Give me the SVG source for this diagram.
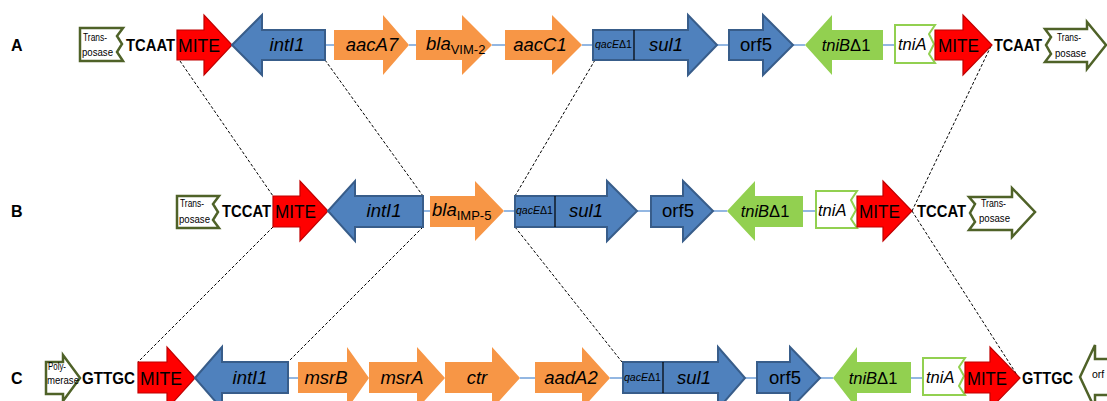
<svg xmlns="http://www.w3.org/2000/svg" width="1107" height="401" viewBox="0 0 1107 401">
<style>
.blue{fill:#4f81bd;stroke:#385d8a;stroke-width:2}
.red{fill:#ff0000;stroke:#c00000;stroke-width:1.2}
.orange{fill:#f79646}
.green{fill:#92d050}
.tnia{fill:#fff;stroke:#92d050;stroke-width:2}
.olive{fill:#fff;stroke:#4f6228;stroke-width:2.5}
.link{stroke:#6f9fd8;stroke-width:1.5}
.dash{stroke:#000;stroke-width:1;stroke-dasharray:3 2;fill:none}
.div{stroke:#000;stroke-width:1.2}
text{font-family:"Liberation Sans",Arial,sans-serif;fill:#000}
.g{font-size:18.5px;font-style:italic;text-anchor:middle}
.gn{font-size:18.5px;text-anchor:middle}
.m{font-size:19px}
.seq{font-size:17px;font-weight:bold}
.tp{font-size:10.5px}
.q{font-size:11.5px}
.t16{font-size:16.5px;font-style:italic}
.lab{font-size:16px;font-weight:bold}
</style>
<g id="connectors">
<line class="link" x1="325" y1="45" x2="334" y2="45"/>
<line class="link" x1="409" y1="45" x2="416" y2="45"/>
<line class="link" x1="492" y1="45" x2="505" y2="45"/>
<line class="link" x1="582" y1="45" x2="593" y2="45"/>
<line class="link" x1="717" y1="45" x2="729" y2="45"/>
<line class="link" x1="793" y1="45" x2="805" y2="45"/>
<line class="link" x1="883" y1="45" x2="895" y2="45"/>
<line class="link" x1="423" y1="211" x2="430" y2="211"/>
<line class="link" x1="504" y1="211" x2="515" y2="211"/>
<line class="link" x1="637" y1="211" x2="651" y2="211"/>
<line class="link" x1="713" y1="211" x2="727" y2="211"/>
<line class="link" x1="803" y1="211" x2="816" y2="211"/>
<line class="link" x1="288" y1="378" x2="298" y2="378"/>
<line class="link" x1="520" y1="378" x2="535" y2="378"/>
<line class="link" x1="610" y1="378" x2="623" y2="378"/>
<line class="link" x1="745" y1="378" x2="757" y2="378"/>
<line class="link" x1="820" y1="378" x2="833" y2="378"/>
<line class="link" x1="911" y1="378" x2="923" y2="378"/>
<path class="dash" d="M180,61 L273,196"/>
<path class="dash" d="M325,60 L423,196"/>
<path class="dash" d="M595,60 L515,196"/>
<path class="dash" d="M991,46 L912,211"/>
<path class="dash" d="M273,227 L138,362"/>
<path class="dash" d="M423,227 L288,362"/>
<path class="dash" d="M515,227 L622,362"/>
<path class="dash" d="M912,211 L1019,378"/>
</g>
<g id="labels">
<text class="lab" x="11" y="51">A</text>
<text class="lab" x="11" y="217">B</text>
<text class="lab" x="11" y="384">C</text>
</g>
<!-- Row A -->
<g id="A_transposase_left">
<path class="olive" d="M80,28 H123 L117,36 L122,44 L117,52 L123,61 H80 Z"/>
<text class="tp" x="83" y="41" textLength="24" lengthAdjust="spacingAndGlyphs">Trans-</text>
<text class="tp" x="82" y="56" textLength="31" lengthAdjust="spacingAndGlyphs">posase</text>
</g>
<g id="A_tcaat_left"><text class="seq" x="126" y="51" textLength="49" lengthAdjust="spacingAndGlyphs">TCAAT</text></g>
<g id="A_mite_left">
<path class="red" d="M177,30 H204 V15 L232,45 L204,75 V60 H177 Z"/>
<text class="m" x="178" y="52" textLength="42" lengthAdjust="spacingAndGlyphs">MITE</text>
</g>
<g id="A_intI1">
<path class="blue" d="M232,45 L262,15 V30 H325 V60 H262 V75 Z"/>
<text class="g" x="287" y="51">intI1</text>
</g>
<g id="A_aacA7">
<path class="orange" d="M334,30 H383 V15 L409,45 L383,75 V60 H334 Z"/>
<text class="g" x="372" y="51">aacA7</text>
</g>
<g id="A_blaVIM2">
<path class="orange" d="M416,30 H462 V15 L492,45 L462,75 V60 H416 Z"/>
<text x="426" y="50"><tspan font-size="18.5" font-style="italic">bla</tspan><tspan font-size="13" dy="4">VIM-2</tspan></text>
</g>
<g id="A_aacC1">
<path class="orange" d="M505,30 H552 V15 L582,45 L552,75 V60 H505 Z"/>
<text class="g" x="540" y="51">aacC1</text>
</g>
<g id="A_qacE_sul1">
<path class="blue" d="M593,30 H688 V15 L717,45 L688,75 V60 H593 Z"/>
<line class="div" x1="634" y1="30" x2="634" y2="60"/>
<text class="q" x="595" y="48" textLength="37" lengthAdjust="spacingAndGlyphs"><tspan font-style="italic">qacE</tspan>Δ1</text>
<text class="g" x="666" y="51">sul1</text>
</g>
<g id="A_orf5">
<path class="blue" d="M729,30 H763 V15 L793,45 L763,75 V60 H729 Z"/>
<text class="gn" x="756" y="51">orf5</text>
</g>
<g id="A_tniB">
<path class="green" d="M805,45 L832,15 V30 H883 V60 H832 V75 Z"/>
<text x="846" y="51" font-size="16.5" text-anchor="middle"><tspan font-style="italic">tniB</tspan>Δ1</text>
</g>
<g id="A_tniA">
<path class="tnia" d="M895,25 H935 L929,34 L934,44 L929,54 L935,63 H895 Z"/>
<text class="t16" x="898" y="50">tniA</text>
</g>
<g id="A_mite_right">
<path class="red" d="M935,30 H963 V15 L992,45 L963,75 V60 H935 Z"/>
<text class="m" x="938" y="52" textLength="41" lengthAdjust="spacingAndGlyphs">MITE</text>
</g>
<g id="A_tcaat_right"><text class="seq" x="994" y="51" textLength="48" lengthAdjust="spacingAndGlyphs">TCAAT</text></g>
<g id="A_transposase_right">
<path class="olive" d="M1045,29 H1087 V22 L1106,45 L1087,69 V62 H1045 L1051,54 L1046,45 L1051,37 Z"/>
<text class="tp" x="1057" y="41" textLength="24" lengthAdjust="spacingAndGlyphs">Trans-</text>
<text class="tp" x="1055" y="57" textLength="31" lengthAdjust="spacingAndGlyphs">posase</text>
</g>
<!-- Row B -->
<g id="B_transposase_left">
<path class="olive" d="M177,196 H219 L213,204 L218,212 L213,220 L219,228 H177 Z"/>
<text class="tp" x="180" y="207" textLength="24" lengthAdjust="spacingAndGlyphs">Trans-</text>
<text class="tp" x="179" y="223" textLength="31" lengthAdjust="spacingAndGlyphs">posase</text>
</g>
<g id="B_tccat_left"><text class="seq" x="222" y="217" textLength="49" lengthAdjust="spacingAndGlyphs">TCCAT</text></g>
<g id="B_mite_left">
<path class="red" d="M273,196 H300 V181 L328,211 L300,241 V227 H273 Z"/>
<text class="m" x="275" y="218" textLength="41" lengthAdjust="spacingAndGlyphs">MITE</text>
</g>
<g id="B_intI1">
<path class="blue" d="M328,211 L355,181 V196 H423 V227 H355 V241 Z"/>
<text class="g" x="384" y="217">intI1</text>
</g>
<g id="B_blaIMP5">
<path class="orange" d="M430,196 H475 V181 L504,211 L475,241 V227 H430 Z"/>
<text x="432" y="216"><tspan font-size="18.5" font-style="italic">bla</tspan><tspan font-size="13" dy="4">IMP-5</tspan></text>
</g>
<g id="B_qacE_sul1">
<path class="blue" d="M515,196 H607 V181 L637,211 L607,241 V227 H515 Z"/>
<line class="div" x1="555" y1="196" x2="555" y2="227"/>
<text class="q" x="516" y="214" textLength="37" lengthAdjust="spacingAndGlyphs"><tspan font-style="italic">qacE</tspan>Δ1</text>
<text class="g" x="586" y="217">sul1</text>
</g>
<g id="B_orf5">
<path class="blue" d="M651,196 H683 V181 L713,211 L683,241 V227 H651 Z"/>
<text class="gn" x="678" y="217">orf5</text>
</g>
<g id="B_tniB">
<path class="green" d="M727,211 L755,181 V196 H803 V227 H755 V241 Z"/>
<text x="765" y="217" font-size="16.5" text-anchor="middle"><tspan font-style="italic">tniB</tspan>Δ1</text>
</g>
<g id="B_tniA">
<path class="tnia" d="M816,191 H857 L851,200 L856,210 L851,219 L857,228 H816 Z"/>
<text class="t16" x="818" y="216">tniA</text>
</g>
<g id="B_mite_right">
<path class="red" d="M857,196 H883 V181 L912,211 L883,241 V227 H857 Z"/>
<text class="m" x="859" y="218" textLength="41" lengthAdjust="spacingAndGlyphs">MITE</text>
</g>
<g id="B_tccat_right"><text class="seq" x="917" y="217" textLength="49" lengthAdjust="spacingAndGlyphs">TCCAT</text></g>
<g id="B_transposase_right">
<path class="olive" d="M969,197 H1012 V188 L1035,212 L1012,237 V230 H969 L975,222 L970,213 L975,204 Z"/>
<text class="tp" x="981" y="207" textLength="25" lengthAdjust="spacingAndGlyphs">Trans-</text>
<text class="tp" x="979" y="222" textLength="31" lengthAdjust="spacingAndGlyphs">posase</text>
</g>
<!-- Row C -->
<g id="C_polymerase">
<path class="olive" d="M46,362 H63 V355 L80,378 L63,401 V394 H46 Z"/>
<text class="tp" x="48" y="370" textLength="18" lengthAdjust="spacingAndGlyphs">Poly-</text>
<text class="tp" x="47" y="384" textLength="32" lengthAdjust="spacingAndGlyphs">merase</text>
</g>
<g id="C_gttgc_left"><text class="seq" x="82" y="384" textLength="53" lengthAdjust="spacingAndGlyphs">GTTGC</text></g>
<g id="C_mite_left">
<path class="red" d="M138,362 H167 V347 L195,378 L167,409 V393 H138 Z"/>
<text class="m" x="140" y="385" textLength="42" lengthAdjust="spacingAndGlyphs">MITE</text>
</g>
<g id="C_intI1">
<path class="blue" d="M195,378 L222,347 V362 H288 V393 H222 V409 Z"/>
<text class="g" x="250" y="384">intI1</text>
</g>
<g id="C_msrB">
<path class="orange" d="M298,362 H347 V347 L369,378 L347,409 V393 H298 Z"/>
<text class="g" x="326" y="384">msrB</text>
</g>
<g id="C_msrA">
<path class="orange" d="M369,362 H417 V347 L445,378 L417,409 V393 H369 Z"/>
<text class="g" x="402" y="384">msrA</text>
</g>
<g id="C_ctr">
<path class="orange" d="M445,362 H492 V347 L520,378 L492,409 V393 H445 Z"/>
<text class="g" x="477" y="384">ctr</text>
</g>
<g id="C_aadA2">
<path class="orange" d="M535,362 H582 V347 L610,378 L582,409 V393 H535 Z"/>
<text class="g" x="571" y="384">aadA2</text>
</g>
<g id="C_qacE_sul1">
<path class="blue" d="M623,362 H718 V347 L745,378 L718,409 V393 H623 Z"/>
<line class="div" x1="663" y1="362" x2="663" y2="393"/>
<text class="q" x="624" y="381" textLength="37" lengthAdjust="spacingAndGlyphs"><tspan font-style="italic">qacE</tspan>Δ1</text>
<text class="g" x="694" y="384">sul1</text>
</g>
<g id="C_orf5">
<path class="blue" d="M757,362 H790 V347 L820,378 L790,409 V393 H757 Z"/>
<text class="gn" x="785" y="384">orf5</text>
</g>
<g id="C_tniB">
<path class="green" d="M833,378 L857,347 V362 H911 V393 H857 V409 Z"/>
<text x="873" y="384" font-size="16.5" text-anchor="middle"><tspan font-style="italic">tniB</tspan>Δ1</text>
</g>
<g id="C_tniA">
<path class="tnia" d="M923,358 H965 L959,367 L964,376 L959,386 L965,395 H923 Z"/>
<text class="t16" x="926" y="383">tniA</text>
</g>
<g id="C_mite_right">
<path class="red" d="M965,362 H990 V347 L1020,378 L990,409 V393 H965 Z"/>
<text class="m" x="967" y="385" textLength="40" lengthAdjust="spacingAndGlyphs">MITE</text>
</g>
<g id="C_gttgc_right"><text class="seq" x="1022" y="384" textLength="51" lengthAdjust="spacingAndGlyphs">GTTGC</text></g>
<g id="C_orf">
<path class="olive" d="M1080,377 L1095,345 V359 H1112 V395 H1095 V409 Z"/>
<text x="1092" y="378" font-size="10.5">orf</text>
</g>
</svg>
